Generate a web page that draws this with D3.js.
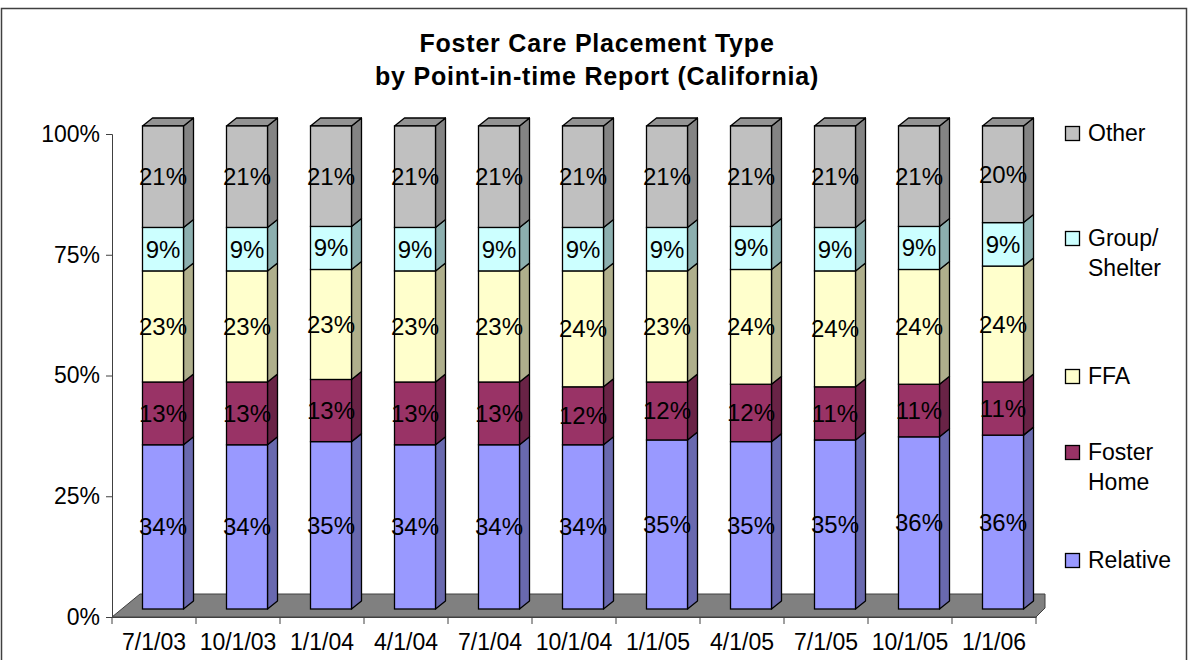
<!DOCTYPE html>
<html>
<head>
<meta charset="utf-8">
<script src="https://cdn.jsdelivr.net/npm/d3@7"></script>
<style>
  body { margin: 0; background: #fff; }
  text { font-family: "Liberation Sans", Arial, sans-serif; fill: #000; }
</style>
</head>
<body>
<div id="chart"></div>
<script>
// report dates
var dates = ["7/1/03", "10/1/03", "1/1/04", "4/1/04", "7/1/04", "10/1/04",
             "1/1/05", "4/1/05", "7/1/05", "10/1/05", "1/1/06"];

// placement types, bottom to top
var types = ["Relative", "Foster Home", "FFA", "Group/ Shelter", "Other"];

// percent of placements per type, one value per date
var relative   = [34, 34, 35, 34, 34, 34, 35, 35, 35, 36, 36];
var fosterHome = [13, 13, 13, 13, 13, 12, 12, 12, 11, 11, 11];
var ffa        = [23, 23, 23, 23, 23, 24, 23, 24, 24, 24, 24];
var group      = [9, 9, 9, 9, 9, 9, 9, 9, 9, 9, 9];
var other      = [21, 21, 21, 21, 21, 21, 21, 21, 21, 21, 20];

var yTicks = [0, 0.25, 0.5, 0.75, 1];

var colors = ["#9999ff", "#993366", "#ffffcc", "#ccffff", "#c0c0c0"];

var series = [relative, fosterHome, ffa, group, other];

// build rows for the stack (100% stacked, so normalise each column)
var rows = dates.map(function(d, i) {
  var row = { date: d };
  var total = d3.sum(series, function(s) { return s[i]; });
  types.forEach(function(t, k) { row[t] = series[k][i] / total; });
  return row;
});

var w = 1188, h = 660;
var svg = d3.select("#chart").append("svg").attr("width", w).attr("height", h);

// outer border
svg.append("rect").attr("x", 1.5).attr("y", 8.5).attr("width", 1185).attr("height", 700)
  .attr("fill", "none").attr("stroke", "#404040").attr("stroke-width", 1.5);

// title
svg.append("text").attr("x", 597).attr("y", 52).attr("text-anchor", "middle")
  .style("font-size", "25px").style("font-weight", "bold").style("letter-spacing", "0.8px")
  .text("Foster Care Placement Type");
svg.append("text").attr("x", 597).attr("y", 85).attr("text-anchor", "middle")
  .style("font-size", "25px").style("font-weight", "bold").style("letter-spacing", "0.8px")
  .text("by Point-in-time Report (California)");

var x = d3.scaleBand().domain(dates).range([112, 1036]);
var y = d3.scaleLinear().domain([0, 1]).range([617, 134]);

// 3d depth offsets
var dx = 10, dy = -8;        // bar depth
var fdx = 28, fdy = -23;     // floor depth
var bw = 41;

// floor
var x0 = x.range()[0], x1 = x.range()[1], y0 = y(0);
svg.append("polygon")
  .attr("points", [[x0, y0], [x0 + fdx, y0 + fdy], [x1 + 9, y0 + fdy], [x1 + 9, y0 - 9], [x1, y0]].join(" "))
  .attr("fill", "#808080").attr("stroke", "#404040").attr("stroke-width", 1);

// y axis
var yAxis = d3.axisLeft(y).tickValues(yTicks).tickFormat(d3.format(".0%")).tickSize(6).tickPadding(6);
var gy = svg.append("g").attr("transform", "translate(" + x0 + ",0)").call(yAxis);
gy.select(".domain").attr("stroke", "#404040");
gy.selectAll(".tick line").attr("stroke", "#404040");
gy.selectAll(".tick text").style("font-size", "23px").attr("fill", "#000");

// x axis
var xAxis = d3.axisBottom(x).tickSize(0).tickPadding(17);
var gx = svg.append("g").attr("transform", "translate(0," + y0 + ")").call(xAxis);
gx.select(".domain").attr("stroke", "#404040");
gx.selectAll(".tick text").style("font-size", "23px").attr("fill", "#000");
// category separators
gx.selectAll("line.sep").data(dates.concat(["end"])).enter().append("line").attr("class", "sep")
  .attr("x1", function(d, i) { return x0 + i * x.bandwidth(); })
  .attr("x2", function(d, i) { return x0 + i * x.bandwidth(); })
  .attr("y1", 0).attr("y2", 7).attr("stroke", "#404040");

// bars
var stack = d3.stack().keys(types)(rows);
var yb = function(v) { return y(v) + dy; };

function shade(c, k) { return d3.rgb(c).darker(k); }

var bars = svg.append("g");
stack.forEach(function(layer, k) {
  var col = colors[k];
  layer.forEach(function(seg, i) {
    var bx = x(dates[i]) + x.bandwidth() / 2 - bw / 2 + dx - 1;
    var top = yb(seg[1]), bot = yb(seg[0]);
    var g = bars.append("g");
    // side
    g.append("polygon")
      .attr("points", [[bx + bw, bot], [bx + bw + dx, bot + dy], [bx + bw + dx, top + dy], [bx + bw, top]].join(" "))
      .attr("fill", shade(col, 1.05)).attr("stroke", "#000").attr("stroke-width", 1.3).attr("stroke-linejoin", "round");
    // top face, only for top segment
    if (k === types.length - 1) {
      g.append("polygon")
        .attr("points", [[bx, top], [bx + dx, top + dy], [bx + bw + dx, top + dy], [bx + bw, top]].join(" "))
        .attr("fill", shade(col, 0.75)).attr("stroke", "#000").attr("stroke-width", 1.3).attr("stroke-linejoin", "round");
    }
    // front
    g.append("rect").attr("x", bx).attr("y", top).attr("width", bw).attr("height", bot - top)
      .attr("fill", col).attr("stroke", "#000").attr("stroke-width", 1.3);
  });
});

// labels
stack.forEach(function(layer, k) {
  layer.forEach(function(seg, i) {
    var bx = x(dates[i]) + x.bandwidth() / 2 - bw / 2 + dx - 1;
    svg.append("text")
      .attr("x", bx + bw / 2)
      .attr("y", (yb(seg[0]) + yb(seg[1])) / 2)
      .attr("text-anchor", "middle").attr("dominant-baseline", "central")
      .style("font-size", "24px")
      .text(series[k][i] + "%");
  });
});

// legend
var legendLines = [["Relative"], ["Foster", "Home"], ["FFA"], ["Group/", "Shelter"], ["Other"]];
var legendY = [560, 452, 376, 238, 133];   // first line centre
var lg = svg.append("g");
types.forEach(function(t, k) {
  lg.append("rect").attr("x", 1065.5).attr("y", legendY[k] - 6.5).attr("width", 14).attr("height", 14)
    .attr("fill", colors[k]).attr("stroke", "#000").attr("stroke-width", 1.3);
  legendLines[k].forEach(function(line, j) {
    lg.append("text").attr("x", 1088).attr("y", legendY[k] + j * 30)
      .attr("dominant-baseline", "central").style("font-size", "23px").text(line);
  });
});
</script>
</body>
</html>
